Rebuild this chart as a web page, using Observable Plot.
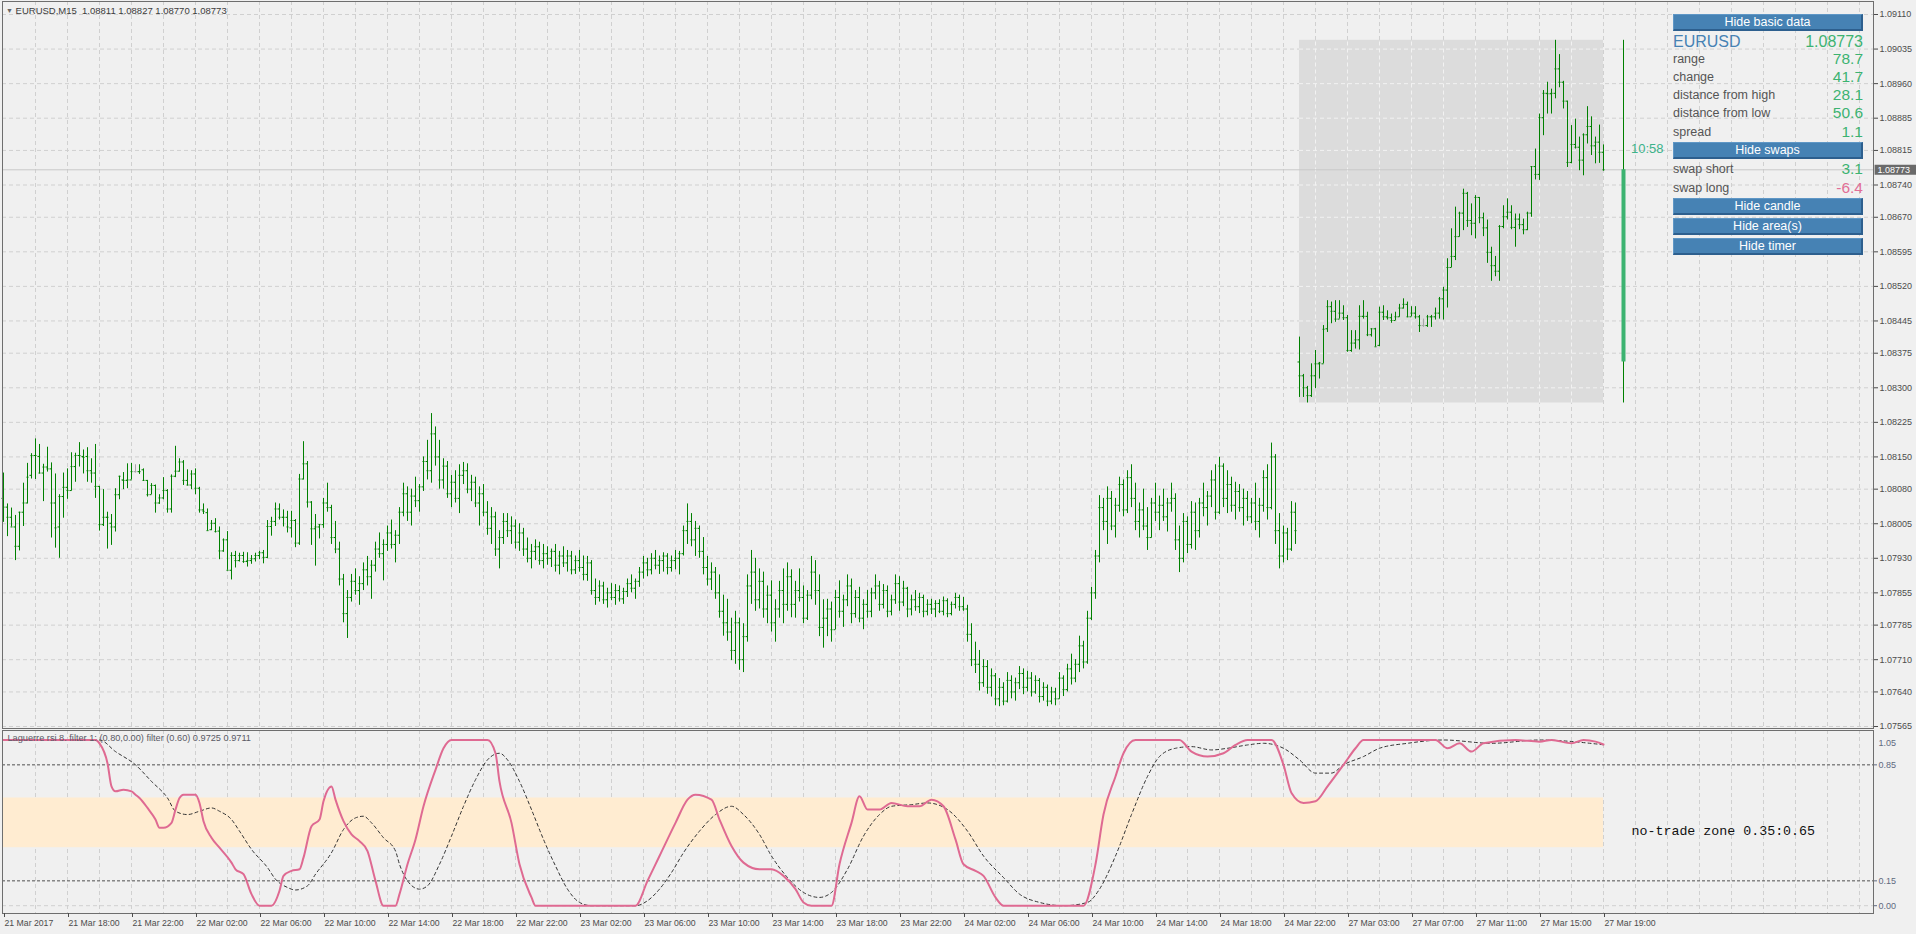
<!DOCTYPE html>
<html><head><meta charset="utf-8">
<script src="https://cdn.jsdelivr.net/npm/d3@7"></script>
<script src="https://cdn.jsdelivr.net/npm/@observablehq/plot@0.6"></script>
<style>
html,body{margin:0;padding:0;background:#f0f0f0;}
body{width:1916px;height:934px;overflow:hidden;position:relative;font-family:"Liberation Sans",Arial,sans-serif;}
#main,#ind{position:absolute;left:0;}
#main{top:0;z-index:2}#ind{top:729px;z-index:1}
#overlay{position:absolute;left:0;top:0;width:1916px;height:934px;z-index:3;pointer-events:none}
.abs{position:absolute;white-space:pre;}
.btn{position:absolute;left:1673px;width:190px;height:17px;background:#4682b4;color:#fff;font-size:12.5px;line-height:15px;text-align:center;box-sizing:border-box;border-right:2px solid #2d5f8e;border-bottom:2px solid #2d5f8e;border-top:1px solid #5f97c6;border-left:1px solid #5f97c6;}
.lbl{position:absolute;left:1673px;font-size:12.5px;color:#555;height:18px;line-height:18px;white-space:pre;}
.val{position:absolute;right:53px;font-size:15.5px;color:#3cb371;height:18px;line-height:18px;text-align:right;white-space:pre;}
</style></head><body>
<div id="main"></div><div id="ind"></div><div id="overlay"></div>
<script>
// ---------------- DATA ----------------
const symbol = "EURUSD,M15";
const priceTicks = [1.09110,1.09035,1.08960,1.08885,1.08815,1.08740,1.08670,1.08595,1.08520,1.08445,1.08375,1.08300,1.08225,1.08150,1.08080,1.08005,1.07930,1.07855,1.07785,1.07710,1.07640,1.07565];
const timeLabelBars = [0,16,32,48,64,80,96,112,128,144,160,176,192,208,224,240,256,272,288,304,320,336,352,368,384,400];
const timeLabels = ["21 Mar 2017","21 Mar 18:00","21 Mar 22:00","22 Mar 02:00","22 Mar 06:00","22 Mar 10:00","22 Mar 14:00","22 Mar 18:00","22 Mar 22:00","23 Mar 02:00","23 Mar 06:00","23 Mar 10:00","23 Mar 14:00","23 Mar 18:00","23 Mar 22:00","24 Mar 02:00","24 Mar 06:00","24 Mar 10:00","24 Mar 14:00","24 Mar 18:00","24 Mar 22:00","27 Mar 03:00","27 Mar 07:00","27 Mar 11:00","27 Mar 15:00","27 Mar 19:00"];

// bars 0..79
const openA = [1.08060,1.08041,1.08019,1.07998,1.07956,1.08030,1.08050,1.08110,1.08153,1.08151,
1.08115,1.08128,1.08124,1.08050,1.07998,1.08064,1.08084,1.08077,1.08129,1.08153,
1.08151,1.08151,1.08120,1.08115,1.08086,1.08003,1.08019,1.08006,1.07998,1.08068,
1.08100,1.08099,1.08100,1.08118,1.08118,1.08122,1.08099,1.08068,1.08088,1.08050,
1.08061,1.08077,1.08037,1.08108,1.08119,1.08139,1.08099,1.08089,1.08113,1.08082,
1.08035,1.08029,1.07992,1.08006,1.07989,1.07946,1.07970,1.07904,1.07936,1.07925,
1.07936,1.07923,1.07925,1.07929,1.07936,1.07942,1.07932,1.07999,1.08010,1.08037,
1.08019,1.08019,1.07996,1.08012,1.07963,1.08102,1.08135,1.08052,1.07994,1.07998];
const highA = [1.08115,1.08048,1.08039,1.08023,1.08030,1.08093,1.08136,1.08157,1.08189,1.08177,
1.08134,1.08171,1.08137,1.08113,1.08068,1.08115,1.08124,1.08159,1.08158,1.08181,
1.08165,1.08170,1.08146,1.08177,1.08086,1.08079,1.08030,1.08025,1.08081,1.08108,
1.08116,1.08135,1.08136,1.08133,1.08133,1.08124,1.08099,1.08092,1.08089,1.08068,
1.08105,1.08079,1.08111,1.08173,1.08146,1.08142,1.08122,1.08120,1.08124,1.08084,
1.08048,1.08037,1.08012,1.08016,1.07998,1.07972,1.07988,1.07942,1.07945,1.07941,
1.07943,1.07942,1.07936,1.07941,1.07945,1.07947,1.08012,1.08019,1.08050,1.08048,
1.08035,1.08032,1.08032,1.08014,1.08112,1.08183,1.08140,1.08053,1.08025,1.08003];
const lowA = [1.08008,1.07977,1.07998,1.07925,1.07946,1.07999,1.08048,1.08102,1.08101,1.08113,
1.08053,1.08117,1.07974,1.07952,1.07930,1.08017,1.08058,1.08076,1.08095,1.08128,
1.08113,1.08095,1.08093,1.08060,1.07989,1.07999,1.07950,1.07958,1.07987,1.08057,
1.08079,1.08081,1.08100,1.08115,1.08112,1.08097,1.08063,1.08068,1.08028,1.08047,
1.08057,1.08028,1.08028,1.08105,1.08117,1.08088,1.08087,1.08079,1.08068,1.08028,
1.08025,1.07990,1.07990,1.07985,1.07927,1.07943,1.07904,1.07883,1.07909,1.07922,
1.07919,1.07911,1.07917,1.07922,1.07927,1.07918,1.07929,1.07978,1.07999,1.08013,
1.07998,1.07985,1.07974,1.07953,1.07958,1.08100,1.08039,1.07958,1.07913,1.07972];
const closeA = [1.08041,1.08019,1.07998,1.07956,1.08030,1.08050,1.08106,1.08153,1.08153,1.08115,
1.08128,1.08124,1.08050,1.07996,1.08064,1.08084,1.08077,1.08129,1.08153,1.08153,
1.08149,1.08120,1.08115,1.08086,1.08003,1.08019,1.08019,1.07998,1.08068,1.08108,
1.08099,1.08100,1.08118,1.08118,1.08118,1.08099,1.08068,1.08088,1.08050,1.08061,
1.08077,1.08037,1.08108,1.08119,1.08139,1.08099,1.08089,1.08113,1.08082,1.08035,
1.08032,1.07990,1.08006,1.07988,1.07946,1.07970,1.07904,1.07936,1.07925,1.07936,
1.07923,1.07925,1.07929,1.07936,1.07942,1.07932,1.07999,1.08010,1.08037,1.08019,
1.08019,1.07998,1.08012,1.07963,1.08102,1.08135,1.08052,1.07994,1.07998,1.08003];

// bars 80..323
const openB = [1.08003,1.08050,1.08040,1.07975,1.07950,1.07885,1.07810,1.07845,1.07880,1.07860,
1.07875,1.07905,1.07890,1.07915,1.07950,1.07940,1.07960,1.07985,1.07960,1.07980,
1.08030,1.08070,1.08030,1.08065,1.08055,1.08085,1.08140,1.08120,1.08200,1.08150,
1.08100,1.08130,1.08070,1.08095,1.08060,1.08110,1.08120,1.08080,1.08095,1.08050,
1.08070,1.08030,1.07995,1.08020,1.07950,1.07975,1.08010,1.07990,1.08000,1.07965,
1.07985,1.07950,1.07930,1.07945,1.07955,1.07925,1.07940,1.07930,1.07945,1.07915,
1.07935,1.07920,1.07935,1.07905,1.07925,1.07910,1.07895,1.07920,1.07860,1.07845,
1.07870,1.07840,1.07855,1.07845,1.07860,1.07842,1.07858,1.07875,1.07865,1.07880,
1.07900,1.07920,1.07905,1.07930,1.07915,1.07925,1.07935,1.07910,1.07925,1.07930,
1.07940,1.07990,1.08010,1.07970,1.07995,1.07945,1.07910,1.07885,1.07900,1.07855,
1.07815,1.07790,1.07770,1.07730,1.07790,1.07710,1.07760,1.07870,1.07900,1.07840,
1.07880,1.07820,1.07850,1.07790,1.07820,1.07860,1.07830,1.07890,1.07830,1.07860,
1.07845,1.07800,1.07850,1.07900,1.07860,1.07780,1.07800,1.07820,1.07775,1.07845,
1.07815,1.07840,1.07870,1.07810,1.07845,1.07800,1.07830,1.07815,1.07855,1.07870,
1.07830,1.07860,1.07815,1.07840,1.07875,1.07835,1.07865,1.07820,1.07840,1.07825,
1.07845,1.07815,1.07830,1.07820,1.07832,1.07815,1.07838,1.07810,1.07830,1.07845,
1.07825,1.07820,1.07765,1.07710,1.07700,1.07660,1.07695,1.07650,1.07675,1.07625,
1.07650,1.07620,1.07665,1.07640,1.07660,1.07680,1.07650,1.07670,1.07640,1.07665,
1.07630,1.07650,1.07620,1.07640,1.07625,1.07670,1.07645,1.07690,1.07670,1.07700,
1.07740,1.07705,1.07800,1.07855,1.07935,1.08040,1.08010,1.08060,1.08000,1.08045,
1.08090,1.08035,1.08105,1.08060,1.08010,1.08035,1.08000,1.07975,1.08050,1.08030,
1.08045,1.08020,1.08050,1.08060,1.07970,1.07930,1.08010,1.07960,1.08030,1.07990,
1.08050,1.08040,1.08065,1.08100,1.08030,1.08130,1.08060,1.08090,1.08045,1.08075,
1.08040,1.08060,1.08020,1.08050,1.08010,1.08045,1.08105,1.08040,1.08150,1.07990,
1.07935,1.07985,1.07950,1.08030];
const highB = [1.08060,1.08093,1.08045,1.08010,1.07965,1.07895,1.07860,1.07895,1.07907,1.07890,
1.07920,1.07934,1.07925,1.07965,1.07985,1.07970,1.08000,1.08013,1.07990,1.08040,
1.08093,1.08085,1.08080,1.08106,1.08090,1.08150,1.08186,1.08244,1.08215,1.08186,
1.08146,1.08140,1.08110,1.08120,1.08133,1.08138,1.08135,1.08110,1.08106,1.08085,
1.08090,1.08053,1.08040,1.08030,1.07990,1.08027,1.08027,1.08020,1.08013,1.08005,
1.07995,1.07974,1.07960,1.07970,1.07965,1.07960,1.07955,1.07950,1.07960,1.07945,
1.07955,1.07947,1.07945,1.07935,1.07947,1.07935,1.07934,1.07925,1.07885,1.07881,
1.07878,1.07865,1.07875,1.07873,1.07870,1.07865,1.07885,1.07894,1.07885,1.07910,
1.07934,1.07930,1.07940,1.07947,1.07935,1.07942,1.07940,1.07935,1.07947,1.07945,
1.08000,1.08048,1.08027,1.08010,1.08000,1.07975,1.07934,1.07920,1.07910,1.07894,
1.07850,1.07841,1.07800,1.07815,1.07800,1.07788,1.07894,1.07947,1.07930,1.07907,
1.07900,1.07870,1.07881,1.07840,1.07880,1.07907,1.07920,1.07905,1.07880,1.07907,
1.07870,1.07860,1.07934,1.07925,1.07894,1.07840,1.07841,1.07835,1.07860,1.07881,
1.07850,1.07894,1.07885,1.07860,1.07867,1.07840,1.07860,1.07865,1.07894,1.07880,
1.07873,1.07870,1.07850,1.07894,1.07890,1.07880,1.07867,1.07850,1.07860,1.07854,
1.07850,1.07840,1.07841,1.07838,1.07840,1.07846,1.07842,1.07835,1.07854,1.07850,
1.07845,1.07828,1.07788,1.07748,1.07730,1.07710,1.07708,1.07690,1.07680,1.07669,
1.07660,1.07682,1.07675,1.07670,1.07695,1.07690,1.07685,1.07682,1.07675,1.07669,
1.07660,1.07655,1.07650,1.07648,1.07682,1.07675,1.07700,1.07722,1.07710,1.07761,
1.07750,1.07815,1.07867,1.07947,1.08066,1.08060,1.08085,1.08075,1.08060,1.08106,
1.08100,1.08120,1.08133,1.08093,1.08050,1.08080,1.08040,1.08060,1.08093,1.08065,
1.08080,1.08060,1.08093,1.08070,1.08000,1.08027,1.08020,1.08053,1.08050,1.08060,
1.08093,1.08075,1.08120,1.08133,1.08149,1.08135,1.08120,1.08106,1.08095,1.08090,
1.08080,1.08075,1.08060,1.08093,1.08060,1.08120,1.08133,1.08180,1.08155,1.08027,
1.08000,1.07995,1.08053,1.08050];
const lowB = [1.07995,1.08030,1.07960,1.07940,1.07870,1.07790,1.07756,1.07835,1.07850,1.07828,
1.07860,1.07870,1.07841,1.07900,1.07930,1.07881,1.07945,1.07950,1.07920,1.07960,
1.08020,1.08010,1.08000,1.08040,1.08030,1.08075,1.08100,1.08093,1.08130,1.08080,
1.08080,1.08060,1.08040,1.08050,1.08027,1.08090,1.08070,1.08053,1.08040,1.08000,
1.08020,1.07980,1.07960,1.07934,1.07907,1.07960,1.07975,1.07960,1.07950,1.07945,
1.07934,1.07920,1.07907,1.07925,1.07915,1.07907,1.07915,1.07910,1.07900,1.07894,
1.07910,1.07900,1.07894,1.07895,1.07900,1.07881,1.07880,1.07850,1.07828,1.07835,
1.07830,1.07822,1.07838,1.07828,1.07835,1.07830,1.07845,1.07855,1.07841,1.07867,
1.07885,1.07890,1.07894,1.07905,1.07895,1.07900,1.07894,1.07900,1.07905,1.07894,
1.07935,1.07960,1.07955,1.07934,1.07930,1.07894,1.07870,1.07860,1.07841,1.07800,
1.07761,1.07750,1.07708,1.07700,1.07687,1.07682,1.07748,1.07830,1.07815,1.07820,
1.07800,1.07788,1.07770,1.07748,1.07800,1.07788,1.07815,1.07801,1.07800,1.07835,
1.07788,1.07795,1.07840,1.07828,1.07760,1.07735,1.07760,1.07748,1.07775,1.07800,
1.07780,1.07825,1.07788,1.07800,1.07790,1.07775,1.07800,1.07801,1.07840,1.07815,
1.07820,1.07801,1.07805,1.07830,1.07815,1.07825,1.07801,1.07805,1.07815,1.07810,
1.07801,1.07805,1.07808,1.07801,1.07810,1.07805,1.07801,1.07805,1.07820,1.07815,
1.07815,1.07748,1.07695,1.07680,1.07642,1.07650,1.07635,1.07629,1.07610,1.07608,
1.07610,1.07616,1.07625,1.07620,1.07645,1.07634,1.07640,1.07629,1.07635,1.07616,
1.07620,1.07608,1.07612,1.07610,1.07624,1.07630,1.07640,1.07655,1.07660,1.07682,
1.07690,1.07700,1.07795,1.07841,1.07920,1.07990,1.07960,1.07990,1.07974,1.08030,
1.08020,1.08027,1.08040,1.07990,1.07974,1.07990,1.07947,1.07974,1.08010,1.07990,
1.08010,1.07987,1.08030,1.07947,1.07899,1.07920,1.07940,1.07950,1.07947,1.07974,
1.08020,1.08000,1.08040,1.08013,1.08025,1.08040,1.08027,1.08030,1.08013,1.08030,
1.08000,1.08010,1.08005,1.07990,1.07974,1.08030,1.08013,1.08035,1.07960,1.07907,
1.07920,1.07925,1.07945,1.07960];
const closeB = [1.08050,1.08040,1.07975,1.07950,1.07885,1.07810,1.07845,1.07880,1.07860,1.07875,
1.07905,1.07890,1.07915,1.07950,1.07940,1.07960,1.07985,1.07960,1.07980,1.08030,
1.08070,1.08030,1.08065,1.08055,1.08085,1.08140,1.08120,1.08200,1.08150,1.08100,
1.08130,1.08070,1.08095,1.08060,1.08110,1.08120,1.08080,1.08095,1.08050,1.08070,
1.08030,1.07995,1.08020,1.07950,1.07975,1.08010,1.07990,1.08000,1.07965,1.07985,
1.07950,1.07930,1.07945,1.07955,1.07925,1.07940,1.07930,1.07945,1.07915,1.07935,
1.07920,1.07935,1.07905,1.07925,1.07910,1.07895,1.07920,1.07860,1.07845,1.07870,
1.07840,1.07855,1.07845,1.07860,1.07842,1.07858,1.07875,1.07865,1.07880,1.07900,
1.07920,1.07905,1.07930,1.07915,1.07925,1.07935,1.07910,1.07925,1.07930,1.07940,
1.07990,1.08010,1.07970,1.07995,1.07945,1.07910,1.07885,1.07900,1.07855,1.07815,
1.07790,1.07770,1.07730,1.07790,1.07710,1.07760,1.07870,1.07900,1.07840,1.07880,
1.07820,1.07850,1.07790,1.07820,1.07860,1.07830,1.07890,1.07830,1.07860,1.07845,
1.07800,1.07850,1.07900,1.07860,1.07780,1.07800,1.07820,1.07775,1.07845,1.07815,
1.07840,1.07870,1.07810,1.07845,1.07800,1.07830,1.07815,1.07855,1.07870,1.07830,
1.07860,1.07815,1.07840,1.07875,1.07835,1.07865,1.07820,1.07840,1.07825,1.07845,
1.07815,1.07830,1.07820,1.07832,1.07815,1.07838,1.07810,1.07830,1.07845,1.07825,
1.07820,1.07765,1.07710,1.07700,1.07660,1.07695,1.07650,1.07675,1.07625,1.07650,
1.07620,1.07665,1.07640,1.07660,1.07680,1.07650,1.07670,1.07640,1.07665,1.07630,
1.07650,1.07620,1.07640,1.07625,1.07670,1.07645,1.07690,1.07670,1.07700,1.07740,
1.07705,1.07800,1.07855,1.07935,1.08040,1.08010,1.08060,1.08000,1.08045,1.08090,
1.08035,1.08105,1.08060,1.08010,1.08035,1.08000,1.07975,1.08050,1.08030,1.08045,
1.08020,1.08050,1.08060,1.07970,1.07930,1.08010,1.07960,1.08030,1.07990,1.08050,
1.08040,1.08065,1.08100,1.08030,1.08130,1.08060,1.08090,1.08045,1.08075,1.08040,
1.08060,1.08020,1.08050,1.08010,1.08045,1.08105,1.08040,1.08150,1.07990,1.07935,
1.07985,1.07950,1.08030,1.07990];

// bars 324..400 (27 Mar session)
const openC = [1.08356,1.08326,1.08300,1.08283,1.08326,1.08352,1.08352,1.08428,1.08476,1.08466,
1.08449,1.08462,1.08452,1.08381,1.08397,1.08404,1.08455,1.08455,1.08415,1.08428,
1.08392,1.08464,1.08454,1.08452,1.08446,1.08454,1.08473,1.08481,1.08454,1.08462,
1.08454,1.08435,1.08435,1.08454,1.08454,1.08462,1.08493,1.08512,1.08561,1.08585,
1.08628,1.08679,1.08722,1.08663,1.08657,1.08713,1.08669,1.08647,1.08594,1.08565,
1.08553,1.08650,1.08671,1.08681,1.08648,1.08666,1.08654,1.08643,1.08679,1.08780,
1.08763,1.08886,1.08939,1.08938,1.08939,1.08992,1.08963,1.08922,1.08789,1.08828,
1.08822,1.08794,1.08849,1.08867,1.08825,1.08833,1.08811];
const highC = [1.08410,1.08329,1.08303,1.08352,1.08381,1.08355,1.08435,1.08489,1.08486,1.08489,
1.08489,1.08478,1.08457,1.08424,1.08424,1.08478,1.08489,1.08464,1.08428,1.08429,
1.08475,1.08478,1.08467,1.08460,1.08464,1.08481,1.08493,1.08486,1.08476,1.08476,
1.08457,1.08449,1.08457,1.08457,1.08473,1.08496,1.08518,1.08580,1.08645,1.08692,
1.08681,1.08731,1.08724,1.08699,1.08717,1.08713,1.08679,1.08664,1.08605,1.08585,
1.08652,1.08695,1.08710,1.08695,1.08677,1.08677,1.08666,1.08681,1.08780,1.08818,
1.08894,1.08945,1.08963,1.08948,1.09054,1.09023,1.08965,1.08922,1.08869,1.08883,
1.08844,1.08851,1.08910,1.08888,1.08844,1.08870,1.08827];
const lowC = [1.08279,1.08279,1.08267,1.08279,1.08298,1.08319,1.08352,1.08420,1.08439,1.08442,
1.08449,1.08446,1.08377,1.08377,1.08384,1.08382,1.08449,1.08411,1.08410,1.08389,
1.08389,1.08446,1.08447,1.08440,1.08446,1.08453,1.08471,1.08452,1.08454,1.08449,
1.08420,1.08431,1.08431,1.08431,1.08447,1.08449,1.08447,1.08473,1.08561,1.08576,
1.08627,1.08641,1.08648,1.08630,1.08623,1.08656,1.08628,1.08570,1.08531,1.08541,
1.08531,1.08645,1.08664,1.08643,1.08605,1.08643,1.08632,1.08641,1.08670,1.08751,
1.08750,1.08847,1.08894,1.08894,1.08927,1.08951,1.08905,1.08778,1.08786,1.08818,
1.08771,1.08760,1.08829,1.08804,1.08786,1.08787,1.08770];
const closeC = [1.08326,1.08300,1.08283,1.08326,1.08352,1.08354,1.08427,1.08476,1.08466,1.08449,
1.08462,1.08452,1.08381,1.08397,1.08404,1.08455,1.08455,1.08415,1.08428,1.08389,
1.08464,1.08454,1.08452,1.08446,1.08454,1.08473,1.08481,1.08454,1.08462,1.08454,
1.08435,1.08435,1.08454,1.08454,1.08462,1.08493,1.08512,1.08561,1.08585,1.08628,
1.08679,1.08722,1.08663,1.08657,1.08713,1.08669,1.08647,1.08594,1.08565,1.08553,
1.08650,1.08671,1.08681,1.08648,1.08666,1.08654,1.08643,1.08679,1.08780,1.08763,
1.08886,1.08939,1.08938,1.08939,1.08992,1.08963,1.08922,1.08789,1.08828,1.08822,
1.08794,1.08849,1.08867,1.08825,1.08833,1.08811,1.08773];
const dojiBars = [33, 355];

// daily candle / area (27 Mar)
const dayOpen = 1.08356, dayHigh = 1.09054, dayLow = 1.08267, dayClose = 1.08773;
const areaFromBar = 324, areaToBar = 400, candleBar = 405;

// Laguerre RSI (pink) and its filter (dashed), read at these bars
const rsiBars = [0,23,24,26,27,28,30,32,33,34,36,38,39,40,42,43,44,45,48,49,50,52,54,57,58,60,62,64,67,69,70,72,74,75,77,79,80,82,83,85,87,89,91,93,95,98,99,
101,103,105,108,110,112,121,123,124,127,129,132,133,158,161,164,168,171,173,177,179,182,185,189,192,195,198,200,202,207,209,212,214,216,219,222,226,229,232,235,238,240,243,245,248,250,270,273,275,278,280,283,294,297,301,305,308,311,317,320,322,325,328,331,335,338,340,358,361,364,367,370,378,384,387,392,395,398,400];
const rsiVals = [1,1,0.98,0.86,0.72,0.69,0.70,0.69,0.67,0.65,0.59,0.52,0.47,0.47,0.50,0.58,0.65,0.67,0.67,0.62,0.51,0.41,0.35,0.26,0.22,0.19,0.07,0,0,0.09,0.18,0.21,0.22,0.29,0.48,0.52,0.63,0.72,0.64,0.51,0.43,0.39,0.33,0.15,0,0,0.07,
0.25,0.40,0.60,0.82,0.95,1,1,0.92,0.75,0.50,0.25,0.05,0,0,0.15,0.30,0.50,0.64,0.67,0.64,0.52,0.36,0.26,0.22,0.22,0.18,0.10,0.02,0,0,0.25,0.50,0.66,0.58,0.58,0.62,0.60,0.60,0.64,0.60,0.40,0.25,0.21,0.18,0.05,0,0,0.25,0.55,0.78,0.92,1,1,0.93,0.90,0.92,0.97,1,1,0.85,0.68,0.62,0.63,0.72,0.85,0.95,1,1,0.95,0.98,0.93,0.98,1,0.99,1,0.98,1,0.99,0.9725];
const filtBars = [0,24,28,33,37,41,43,46,49,52,54,57,59,62,66,68,71,73,76,78,82,85,88,90,92,95,98,99,
101,104,106,109,112,115,118,121,124,126,129,132,135,138,141,144,147,158,161,164,167,170,174,178,182,185,189,192,196,200,204,207,211,215,219,222,227,231,236,241,245,250,254,259,265,271,274,278,282,286,289,293,297,302,306,311,315,320,324,328,332,335,340,344,351,360,372,384,400];
const filtVals = [1,1,0.93,0.85,0.75,0.65,0.57,0.55,0.57,0.59,0.57,0.52,0.45,0.34,0.23,0.16,0.11,0.095,0.12,0.19,0.32,0.46,0.53,0.54,0.50,0.41,0.33,0.25,
0.15,0.10,0.12,0.25,0.42,0.60,0.76,0.88,0.92,0.88,0.75,0.58,0.40,0.24,0.10,0.02,0,0,0.03,0.10,0.20,0.32,0.45,0.55,0.60,0.55,0.43,0.30,0.17,0.08,0.05,0.08,0.22,0.42,0.55,0.60,0.61,0.62,0.58,0.45,0.30,0.17,0.07,0.02,0,0.02,0.10,0.30,0.55,0.78,0.90,0.95,0.96,0.94,0.95,0.97,0.98,0.95,0.88,0.80,0.80,0.85,0.90,0.95,0.98,1,0.98,1,0.9711];
const levels = [0.85, 0.15];
const zone = [0.35, 0.65];
const indTitle = "Laguerre rsi 8. filter 1: (0.80,0.00) filter (0.60) 0.9725 0.9711";

const infoSymbol = "EURUSD", infoPrice = "1.08773";
const infoLabels = ["range","change","distance from high","distance from low","spread"];
const infoValues = ["78.7","41.7","28.1","50.6","1.1"];
const swapLabels = ["swap short","swap long"];
const swapValues = ["3.1","-6.4"];
const buttonLabels = ["Hide basic data","Hide swaps","Hide candle","Hide area(s)","Hide timer"];
const timerText = "10:58";

// ---------------- BUILD ----------------
const fmt5 = d3.format(".5f");
function seg(start, o, h, l, c) {
  return o.map((v, k) => ({i: start + k, open: v, high: h[k], low: l[k], close: c[k], doji: dojiBars.includes(start + k)}));
}
const bars = [...seg(0, openA, highA, lowA, closeA), ...seg(80, openB, highB, lowB, closeB), ...seg(324, openC, highC, lowC, closeC)];
const last = bars[bars.length - 1];
const day = {open: dayOpen, high: dayHigh, low: dayLow, close: dayClose};
const gridBars = d3.range(8, 465, 8);
const xDomain = [0, 467.5], xRange = [3, 1873];
const GRID = "#d0d0d0", BAR = "#008000", DOJI = "#a8a8a8";
const barColor = d => d.doji ? DOJI : BAR;

const main = Plot.plot({
  width: 1916, height: 729,
  marginLeft: 2, marginRight: 43, marginTop: 1, marginBottom: 1,
  style: {background: "#f0f0f0", fontFamily: "Liberation Sans, Arial, sans-serif", overflow: "visible"},
  x: {domain: xDomain, range: xRange, axis: null},
  y: {domain: [1.07565, 1.09110], range: [726, 14], axis: null},
  color: {type: "identity"},
  marks: [
    Plot.ruleY(priceTicks, {stroke: GRID, strokeDasharray: "4,3"}),
    Plot.ruleX(gridBars, {stroke: GRID, strokeDasharray: "4,3"}),
    Plot.rect([day], {x1: () => areaFromBar, x2: () => areaToBar, y1: "low", y2: "high", fill: "#dcdcdc"}),
    Plot.ruleY(priceTicks.filter(v => v > dayLow && v < dayHigh), {x1: areaFromBar, x2: areaToBar, stroke: "#f2f2f2", strokeDasharray: "4,3"}),
    Plot.ruleX(gridBars.filter(b => b > areaFromBar && b < areaToBar), {y1: dayLow, y2: dayHigh, stroke: "#f2f2f2", strokeDasharray: "4,3"}),
    Plot.ruleY([last.close], {stroke: "#c8c8c8"}),
    Plot.ruleX(bars, {x: "i", y1: "low", y2: "high", stroke: barColor}),
    Plot.ruleY(bars, {y: "open", x1: d => d.i - 0.375, x2: d => d.i + 0.125, stroke: barColor}),
    Plot.ruleY(bars, {y: "close", x1: d => d.i - 0.125, x2: d => d.i + 0.375, stroke: barColor}),
    Plot.ruleX([day], {x: () => candleBar, y1: "low", y2: "high", stroke: BAR}),
    Plot.ruleX([day], {x: () => candleBar, y1: "open", y2: "close", stroke: "#3cb371", strokeWidth: 4}),
    Plot.frame({stroke: "#6e6e6e"}),
    Plot.axisY({anchor: "right", label: null, ticks: priceTicks, tickFormat: fmt5, tickSize: 4, tickPadding: 2, fontSize: 9, color: "#4c4c4c"}),
    Plot.ruleY([last.close], {x1: 467.9, x2: 478.5, stroke: "#6a6a6a", strokeWidth: 10}),
    Plot.text([last.close], {y: d => d, frameAnchor: "right", dx: 4, textAnchor: "start", text: d => fmt5(d), fill: "white", fontSize: 9})
  ]
});
document.getElementById("main").append(main);

const rsi = rsiBars.map((b, k) => ({i: b, v: rsiVals[k]}));
const filt = filtBars.map((b, k) => ({i: b, v: filtVals[k]}));
const ind = Plot.plot({
  width: 1916, height: 205,
  marginLeft: 2, marginRight: 43, marginTop: 1, marginBottom: 21,
  style: {background: "#f0f0f0", fontFamily: "Liberation Sans, Arial, sans-serif", overflow: "visible"},
  x: {domain: xDomain, range: xRange, axis: null},
  y: {domain: [-0.05, 1.05], range: [184.5, 2.2], axis: null},
  marks: [
    Plot.ruleX(gridBars, {stroke: GRID, strokeDasharray: "4,3"}),
    Plot.rect([zone], {x1: () => 0, x2: () => areaToBar, y1: d => d[0], y2: d => d[1], fill: "#ffecd1"}),
    Plot.ruleY([0], {stroke: GRID, strokeDasharray: "4,3"}),
    Plot.ruleY(levels, {stroke: "#505050", strokeDasharray: "3,2"}),
    Plot.line(filt, {x: "i", y: "v", stroke: "#333", strokeWidth: 1, strokeDasharray: "3,3", curve: "monotone-x"}),
    Plot.line(rsi, {x: "i", y: "v", stroke: "#df6a92", strokeWidth: 2, curve: "monotone-x"}),
    Plot.text([indTitle], {frameAnchor: "top-left", dx: 5, dy: 4, textAnchor: "start", lineAnchor: "top", fontSize: 9.2, fill: "#5a5a66"}),
    Plot.text(["no-trade zone " + zone[0] + ":" + zone[1]], {x: () => 407, y: () => 0.45, textAnchor: "start", fontFamily: "Liberation Mono, monospace", fontSize: 13.3, fill: "#111"}),
    Plot.frame({stroke: "#6e6e6e"}),
    Plot.axisY({anchor: "right", label: null, ticks: [0.85, 0.15, 0], tickFormat: d3.format(".2f"), tickSize: 3, tickPadding: 2, fontSize: 9, color: "#5f6a80"}),
    Plot.text(["1.05"], {frameAnchor: "top-right", dx: 5, dy: 9, textAnchor: "start", fontSize: 9, fill: "#5f6a80"}),
    Plot.axisX({anchor: "bottom", label: null, ticks: timeLabelBars, tickFormat: (d) => timeLabels[timeLabelBars.indexOf(d)], tickSize: 4, tickPadding: 2, textAnchor: "start", dx: 1, fontSize: 8.7, color: "#4c4c4c"})
  ]
});
document.getElementById("ind").append(ind);

// ---------------- HTML overlay (header + info panel) ----------------
const ov = document.getElementById("overlay");
function add(cls, text, styles) {
  const d = document.createElement("div");
  d.className = cls; d.textContent = text;
  Object.assign(d.style, styles); ov.append(d); return d;
}
const hdr = add("abs", "", {left: "6px", top: "5px", fontSize: "9.5px", color: "#3c3c3c", lineHeight: "12px"});
hdr.innerHTML = '<span style="font-size:7px;color:#666;vertical-align:1px">&#9660;</span> ' +
  symbol + "  " + [last.open, last.high, last.low, last.close].map(fmt5).join(" ");
const btnTops = [14, 142, 198, 218, 238];
buttonLabels.forEach((t, k) => add("btn", t, {top: btnTops[k] + "px"}));
add("abs", infoSymbol, {left: "1673px", top: "33px", fontSize: "16px", color: "#4682b4", lineHeight: "18px"});
add("val", infoPrice, {top: "33px", fontSize: "16px"});
const rowY = [59, 77, 95, 113, 131.5];
infoLabels.forEach((t, k) => { add("lbl", t, {top: (rowY[k] - 9) + "px"}); add("val", infoValues[k], {top: (rowY[k] - 9) + "px"}); });
const swapY = [169, 187.5];
swapLabels.forEach((t, k) => { add("lbl", t, {top: (swapY[k] - 9) + "px"}); add("val", swapValues[k], {top: (swapY[k] - 9) + "px", color: swapValues[k].startsWith("-") ? "#e26e96" : "#3cb371"}); });
add("abs", timerText, {left: "1631px", top: "141px", fontSize: "13px", color: "#3cb38a", lineHeight: "16px"});
</script>
</body></html>
